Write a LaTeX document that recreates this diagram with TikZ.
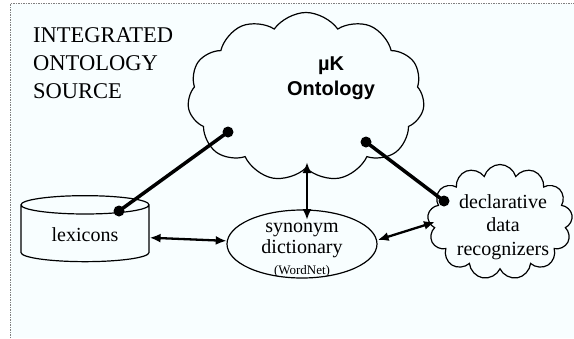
\documentclass[tikz,border=0pt]{standalone}
\usepackage{fontspec}
\setmainfont{Liberation Serif}
\newfontfamily\arialfont{Liberation Sans}
\usetikzlibrary{shapes.symbols,shapes.geometric,arrows.meta}
\definecolor{paper}{RGB}{248,254,255}

\begin{document}
\begin{tikzpicture}[x=1pt,y=-1pt]
        \tikzset{link/.style={line width=3.5pt}}
        \tikzset{dblarrow/.style={{Latex[length=11pt,width=9pt]}-{Latex[length=11pt,width=9pt]}, line width=2.3pt}}
        \tikzset{dot/.style={circle, fill=black, inner sep=0pt, minimum size=11pt}}
        \tikzset{bigtext/.style={font=\fontsize{20}{23.5}\selectfont}}
        \useasboundingbox (0,0) rectangle (574,338);
        \fill[paper] (10,3.5) rectangle (574,338);
        \draw[gray, line width=1pt, dash pattern=on 1.5pt off 1pt] (10,338) -- (10,3.5) -- (574,3.5);
        % title
        \node[anchor=west, align=left, inner sep=0pt, font=\fontsize{22.5}{28}\selectfont] (title) at (33,63) {INTEGRATED\\ONTOLOGY\\SOURCE};
        % ontology cloud
        \node[cloud, draw, line width=1.2pt, cloud puffs=11, cloud puff arc=110, aspect=1.4,
              minimum width=237pt, minimum height=169pt, inner sep=0pt] (onto) at (306,97) {};
        \node[align=center, inner sep=0pt, font=\arialfont\bfseries\fontsize{20}{25}\selectfont] (ontotext) at (331,78) {µK\\Ontology};
        % recognizers cloud
        \node[cloud, draw, line width=1.2pt, cloud puffs=13, aspect=1.3, minimum width=145pt, minimum height=115pt,
              inner sep=0pt] (rec) at (500,222) {};
        \node[align=center, inner sep=0pt, bigtext] (rectext) at (503,227) {declarative\\data\\recognizers};
        % lexicons and dictionary
        \node[cylinder, draw, line width=1.2pt, shape border rotate=90, aspect=0.25,
              minimum width=128pt, minimum height=66pt, bigtext] (lex) at (85,235) {lexicons};
        \node[ellipse, draw, line width=1.2pt, minimum width=150pt, minimum height=68pt, inner sep=0pt] (syn) at (302,244) {};
        \node[align=center, inner sep=0pt, font=\fontsize{20}{21}\selectfont] (syntext) at (302,250)
              {synonym\\dictionary\\{\fontsize{13}{14}\selectfont (WordNet)}};
        % dots and thick links
        \node[dot] (lexdot) at (119,211) {};
        \node[dot] (ontodotA) at (228,132) {};
        \node[dot] (ontodotB) at (366,142) {};
        \node[dot] (recdot) at (444,201) {};
        \draw[link] (lexdot.center) -- (ontodotA.center);
        \draw[link] (ontodotB.center) -- (recdot.center);
        % arrows
        \coordinate (ontoarr) at (307,162);
        \coordinate (synarr) at (307,220);
        \coordinate (recarr) at (435,222);
        \draw[dblarrow] (ontoarr) -- (synarr);
        \draw[dblarrow] (lex) -- (syn);
        \draw[dblarrow] ([yshift=4pt]syn.east) -- (recarr);
    \end{tikzpicture}
\end{document}
